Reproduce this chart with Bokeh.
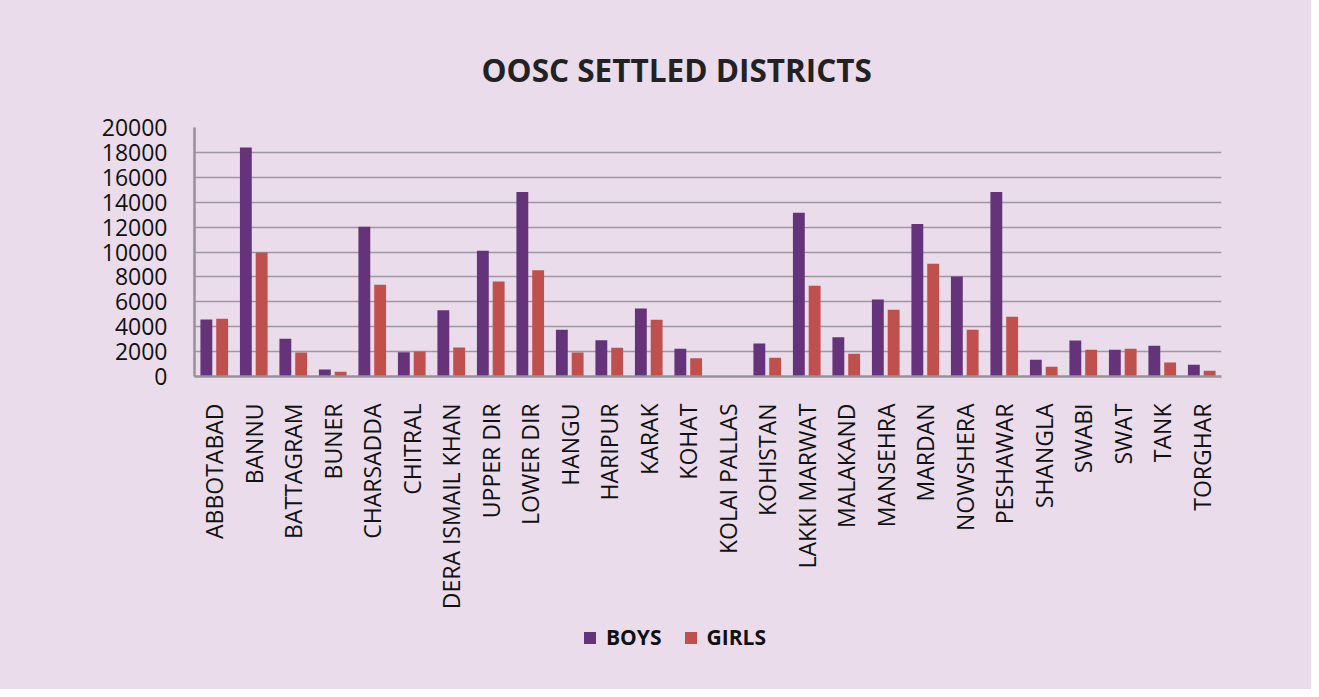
import math
from bokeh.plotting import figure
from bokeh.layouts import column
from bokeh.models import FactorRange, FixedTicker, Legend, LegendItem, Title, ColumnDataSource, Range1d
from bokeh.transform import dodge
from bokeh.embed import file_html
from bokeh.resources import INLINE

districts = ["ABBOTABAD", "BANNU", "BATTAGRAM", "BUNER", "CHARSADDA", "CHITRAL",
             "DERA ISMAIL KHAN", "UPPER DIR", "LOWER DIR", "HANGU", "HARIPUR", "KARAK",
             "KOHAT", "KOLAI PALLAS", "KOHISTAN", "LAKKI MARWAT", "MALAKAND", "MANSEHRA",
             "MARDAN", "NOWSHERA", "PESHAWAR", "SHANGLA", "SWABI", "SWAT", "TANK", "TORGHAR"]
boys = [4580, 18400, 3030, 560, 12020, 1950, 5330, 10100, 14810, 3750, 2920, 5460,
        2220, 0, 2650, 13150, 3160, 6190, 12240, 8030, 14810, 1340, 2890, 2140, 2460, 940]
girls = [4630, 9960, 1930, 380, 7360, 2010, 2330, 7630, 8540, 1930, 2300, 4550,
         1470, 0, 1500, 7280, 1820, 5360, 9050, 3750, 4790, 780, 2140, 2220, 1120, 460]
y_ticks = [0, 2000, 4000, 6000, 8000, 10000, 12000, 14000, 16000, 18000, 20000]

BG = "#EADCEB"
BOY_C = "#64337A"
GIRL_C = "#C0504D"
GRID_C = "#9E98A3"

source = ColumnDataSource(dict(district=districts, boys=boys, girls=girls))
xr = FactorRange(*districts, range_padding=0)

# ---- main chart ----
p = figure(width=1311, height=615, x_range=xr,
           y_range=(0, 20000), output_backend="svg", toolbar_location=None,
           min_border_left=194, min_border_right=90, min_border_top=127,
           min_border_bottom=239)
p.background_fill_color = BG
p.border_fill_color = BG
p.outline_line_color = None

p.vbar(x=dodge("district", -0.2, range=xr), top="boys", width=0.3,
       source=source, fill_color=BOY_C, line_color=None)
p.vbar(x=dodge("district", 0.2, range=xr), top="girls", width=0.3,
       source=source, fill_color=GIRL_C, line_color=None)

p.yaxis.ticker = FixedTicker(ticks=y_ticks)
p.yaxis.major_tick_line_color = None
p.yaxis.minor_tick_line_color = None
p.yaxis.axis_line_color = "#96929A"
p.yaxis.axis_line_width = 2.5
p.yaxis.major_label_text_font = "Open Sans"
p.yaxis.major_label_text_font_size = "23px"
p.yaxis.major_label_text_color = "#111111"
p.yaxis.major_label_standoff = 21

p.xaxis.major_tick_line_color = None
p.xaxis.minor_tick_line_color = None
p.xaxis.axis_line_color = "#96929A"
p.xaxis.axis_line_width = 2.5
p.xaxis.major_label_orientation = math.pi / 2
p.xaxis.major_label_text_font = "Open Sans"
p.xaxis.major_label_text_font_size = "23px"
p.xaxis.major_label_text_color = "#111111"
p.xaxis.major_label_standoff = 21

p.xgrid.grid_line_color = None
p.ygrid.ticker = FixedTicker(ticks=y_ticks)
p.ygrid.grid_line_color = GRID_C
p.ygrid.grid_line_width = 1.5

title = Title(text="OOSC SETTLED DISTRICTS", text_font="Open Sans", text_font_size="31.5px",
              text_font_style="bold", text_color="#222222", align="left", offset=287,
              standoff=73)
p.add_layout(title, "above")

# ---- legend strip (same data; its bar renderers are hidden, only the key is shown) ----
p2 = figure(width=1311, height=74, x_range=xr, y_range=Range1d(-2, -1),
            output_backend="svg", toolbar_location=None,
            x_axis_location=None, y_axis_location=None, min_border=0)
p2.background_fill_color = None
p2.border_fill_color = None
p2.outline_line_color = None
p2.grid.visible = False
b1 = p2.vbar(x=dodge("district", -0.2, range=xr), top="boys", width=0.3,
             source=source, fill_color=BOY_C, line_color=None)
b2 = p2.vbar(x=dodge("district", 0.2, range=xr), top="girls", width=0.3,
             source=source, fill_color=GIRL_C, line_color=None)
b1.visible = False
b2.visible = False

legend = Legend(items=[LegendItem(label="BOYS", renderers=[b1]),
                       LegendItem(label="GIRLS", renderers=[b2])],
                location=(388, 38), orientation="horizontal",
                background_fill_alpha=0, border_line_color=None,
                inactive_fill_alpha=0,
                label_text_font="Open Sans", label_text_font_style="bold",
                label_text_font_size="21px", label_text_color="#111111",
                glyph_width=15, glyph_height=15, spacing=21, label_standoff=9,
                padding=4, margin=0)
p2.add_layout(legend, "center")

layout = column(p, p2, styles={"background-color": BG})
open("out.html", "w").write(file_html(layout, INLINE))
